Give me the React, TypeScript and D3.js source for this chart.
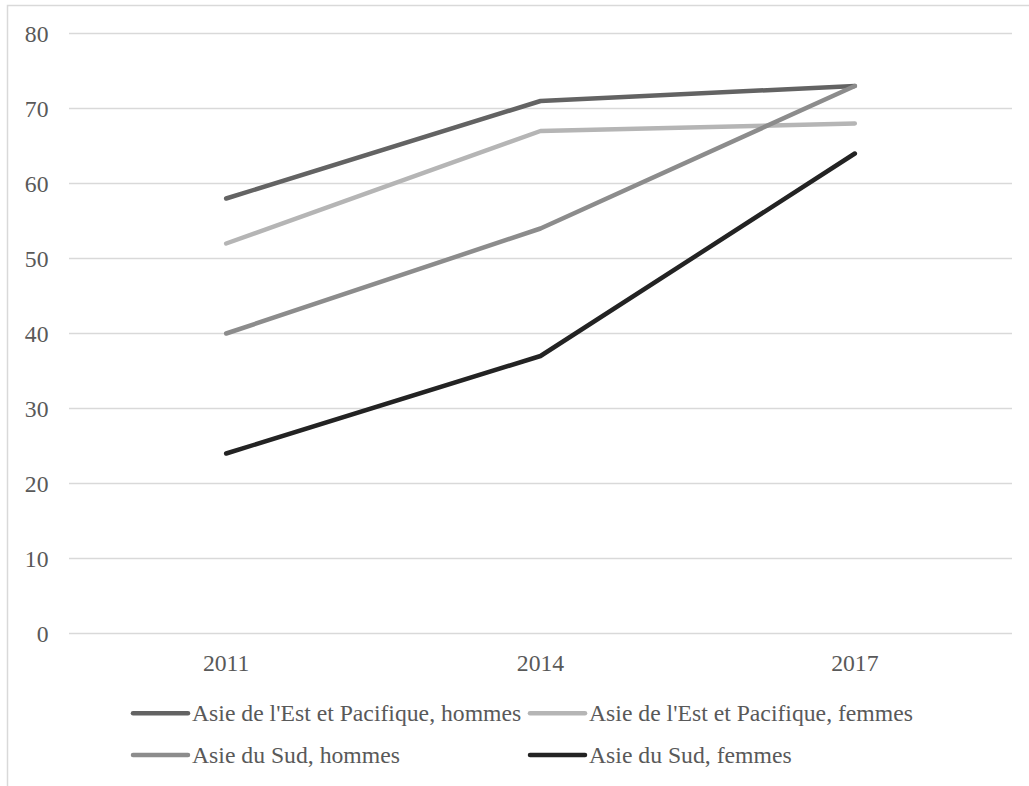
import React from "react";
import * as d3 from "d3";

const years = ["2011", "2014", "2017"];
const seriesNames = [
  "Asie de l'Est et Pacifique, hommes",
  "Asie de l'Est et Pacifique, femmes",
  "Asie du Sud, hommes",
  "Asie du Sud, femmes",
];
const eapMen = [58, 71, 73];
const eapWomen = [52, 67, 68];
const saMen = [40, 54, 73];
const saWomen = [24, 37, 64];
const yTicks = [0, 10, 20, 30, 40, 50, 60, 70, 80];

const seriesValues = [eapMen, eapWomen, saMen, saWomen];
const colors = ["#636363", "#b5b5b5", "#8c8c8c", "#232323"];

const W = 1029;
const H = 786;
const plot = { left: 69, right: 1012, top: 33.5, bottom: 633.5 };
const font = '"Times New Roman", Tinos, "Liberation Serif", "DejaVu Serif", serif';
const textColor = "#595959";

export default function App() {
  const x = d3
    .scaleBand<string>()
    .domain(years)
    .range([plot.left, plot.right])
    .paddingInner(0)
    .paddingOuter(0);
  const y = d3.scaleLinear().domain([0, 80]).range([plot.bottom, plot.top]);
  const cx = (yr: string) => (x(yr) ?? 0) + x.bandwidth() / 2;

  const line = d3
    .line<number>()
    .x((_, i) => cx(years[i]))
    .y((v) => y(v));

  // legend entries laid out in two rows of two
  const legendPos = [
    { x: 133, y: 713.3 },
    { x: 530, y: 713.3 },
    { x: 133, y: 755 },
    { x: 530, y: 755 },
  ];

  const textStyle = { fontFamily: font, fontSize: "23.7px" };

  return (
    <svg
      width={W}
      height={H}
      style={{ position: "absolute", left: 0, top: 0, display: "block", background: "#fff" }}
    >
      <rect x={7.5} y={5.5} width={1200} height={1000} fill="#fff" stroke="#d9d9d9" strokeWidth={1.5} />
      {yTicks.map((t) => (
        <g key={t}>
          <line x1={plot.left} x2={plot.right} y1={y(t)} y2={y(t)} stroke="#d9d9d9" strokeWidth={1.3} />
          <text x={48.5} y={y(t) + 8.6} textAnchor="end" style={textStyle} fill={textColor}>
            {t}
          </text>
        </g>
      ))}
      {years.map((yr) => (
        <text key={yr} x={cx(yr)} y={671} textAnchor="middle" style={textStyle} fill={textColor}>
          {yr}
        </text>
      ))}
      {seriesValues.map((vals, i) => (
        <path
          key={seriesNames[i]}
          d={line(vals) ?? ""}
          fill="none"
          stroke={colors[i]}
          strokeWidth={4.5}
          strokeLinecap="round"
          strokeLinejoin="round"
        />
      ))}
      {seriesNames.map((name, i) => (
        <g key={name}>
          <line
            x1={legendPos[i].x}
            x2={legendPos[i].x + 55}
            y1={legendPos[i].y}
            y2={legendPos[i].y}
            stroke={colors[i]}
            strokeWidth={4.5}
            strokeLinecap="round"
          />
          <text x={legendPos[i].x + 59} y={legendPos[i].y + 8} style={textStyle} fill={textColor}>
            {name}
          </text>
        </g>
      ))}
    </svg>
  );
}
